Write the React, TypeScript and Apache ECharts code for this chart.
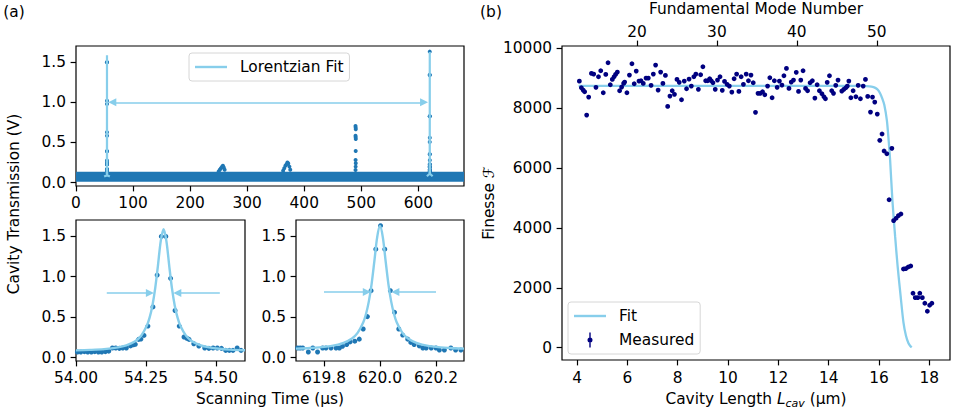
import React, { useEffect, useRef } from 'react';
import * as echarts from 'echarts';

// ---------------- Panel (a) top: full scan ----------------
const scanTicks = [0, 100, 200, 300, 400, 500, 600];
const transTicks = [0, 0.5, 1.0, 1.5];
// dense noise floor of the scan (edges of the band of points)
const bandT = [0, 680];
const bandTop = [0.135, 0.135];
const bandFloor = 0.012;
// small features above the noise floor (µs, V)
const featureT = [250, 252, 254, 256, 257.5, 259, 260.5, 363, 365, 367, 369, 370.5, 372, 374, 375.5,
  489.9, 490.1, 490.3, 489.9, 490.1, 490.3, 490.2, 490.0, 490.3, 490.1, 489.9];
const featureV = [0.14, 0.16, 0.18, 0.2, 0.21, 0.19, 0.16, 0.15, 0.18, 0.21, 0.23, 0.25, 0.24, 0.2, 0.16,
  0.706, 0.685, 0.665, 0.585, 0.565, 0.544, 0.395, 0.283, 0.241, 0.2, 0.158];
// Lorentzian fits as seen on the full scan
const fitScanLeftT = [49.3, 54.0, 54.2, 54.28, 54.313, 54.35, 54.45, 54.6, 59.3];
const fitScanLeftV = [0.076, 0.09, 0.2, 0.86, 1.585, 0.77, 0.17, 0.092, 0.076];
const fitScanRightT = [615, 619.7, 619.9, 619.97, 620.0, 620.03, 620.1, 620.3, 625];
const fitScanRightV = [0.08, 0.112, 0.237, 0.909, 1.625, 0.909, 0.237, 0.112, 0.08];
// free spectral range arrow (arrow-head centres)
const fsrArrowT = [63.6, 610];
const fsrArrowV = 1.0;

// ---------------- Panel (a) bottom-left: first resonance ----------------
const leftTicks = [54.0, 54.25, 54.5];
const peak1T = [54.005, 54.017, 54.030, 54.042, 54.055, 54.067, 54.080, 54.092, 54.105, 54.117, 54.130, 54.142,
  54.155, 54.167, 54.180, 54.195, 54.205, 54.212, 54.224, 54.232, 54.243, 54.257, 54.275, 54.290, 54.305, 54.321,
  54.338, 54.354, 54.369, 54.386, 54.396, 54.404, 54.421, 54.439, 54.460, 54.475, 54.490, 54.505, 54.520, 54.535,
  54.548, 54.561, 54.576, 54.590];
const peak1V = [0.07, 0.07, 0.075, 0.07, 0.07, 0.075, 0.07, 0.07, 0.075, 0.08, 0.12, 0.12,
  0.115, 0.12, 0.12, 0.145, 0.16, 0.165, 0.226, 0.23, 0.275, 0.39, 0.627, 1.02, 1.497, 1.497,
  0.98, 0.583, 0.39, 0.255, 0.24, 0.226, 0.172, 0.144, 0.12, 0.115, 0.12, 0.12, 0.115, 0.09,
  0.09, 0.09, 0.12, 0.09];
const fit1T = [54.0, 54.05, 54.1, 54.15, 54.18, 54.21, 54.233, 54.253, 54.263, 54.273, 54.283, 54.293, 54.303,
  54.313, 54.323, 54.333, 54.343, 54.353, 54.363, 54.373, 54.393, 54.413, 54.443, 54.476, 54.513, 54.55, 54.604];
const fit1V = [0.09, 0.096, 0.106, 0.128, 0.153, 0.2, 0.272, 0.393, 0.494, 0.642, 0.855, 1.141, 1.443,
  1.585, 1.443, 1.141, 0.855, 0.642, 0.494, 0.393, 0.272, 0.207, 0.156, 0.128, 0.11, 0.1, 0.092];
const fwhm1 = { tails: [54.11, 54.514], heads: [54.264, 54.362], level: 0.8 };

// ---------------- Panel (a) bottom-right: second resonance ----------------
const rightTicks = [619.8, 620.0, 620.2];
const peak2T = [619.706, 619.715, 619.724, 619.744, 619.760, 619.777, 619.795, 619.807, 619.825, 619.843, 619.855,
  619.866, 619.881, 619.893, 619.910, 619.926, 619.940, 619.955, 619.968, 619.985, 620.002, 620.017, 620.037,
  620.052, 620.067, 620.081, 620.099, 620.110, 620.122, 620.140, 620.153, 620.165, 620.183, 620.200, 620.212,
  620.230, 620.253, 620.270, 620.289];
const peak2V = [0.12, 0.12, 0.12, 0.07, 0.12, 0.07, 0.12, 0.12, 0.12, 0.12, 0.12,
  0.14, 0.162, 0.195, 0.204, 0.229, 0.354, 0.507, 0.827, 1.34, 1.63, 1.34, 0.827,
  0.56, 0.354, 0.279, 0.229, 0.188, 0.162, 0.146, 0.12, 0.12, 0.12, 0.12, 0.095,
  0.095, 0.12, 0.095, 0.095];
const fit2T = [619.7, 619.75, 619.8, 619.85, 619.87, 619.9, 619.92, 619.94, 619.95, 619.96, 619.97, 619.98, 619.99,
  620.0, 620.01, 620.02, 620.03, 620.04, 620.05, 620.06, 620.08, 620.1, 620.13, 620.15, 620.2, 620.25, 620.3];
const fit2V = [0.112, 0.12, 0.133, 0.162, 0.182, 0.237, 0.306, 0.434, 0.54, 0.692, 0.909, 1.195, 1.489,
  1.625, 1.489, 1.195, 0.909, 0.692, 0.54, 0.434, 0.306, 0.237, 0.182, 0.162, 0.133, 0.12, 0.112];
const fwhm2 = { tails: [619.8, 620.2], heads: [619.953, 620.055], level: 0.81 };

// ---------------- Panel (b): finesse vs cavity length ----------------
const lengthTicks = [4, 6, 8, 10, 12, 14, 16, 18];
const finesseTicks = [0, 2000, 4000, 6000, 8000, 10000];
const modeTicks = [20, 30, 40, 50];
const measLength = [4.09, 4.17, 4.24, 4.30, 4.38, 4.46, 4.57, 4.66, 4.75, 4.85, 4.94, 5.04, 5.14, 5.23, 5.32, 5.40,
  5.47, 5.53, 5.60, 5.69, 5.77, 5.85, 5.89, 5.98, 6.08, 6.18, 6.27, 6.35, 6.46, 6.54, 6.63, 6.74, 6.83, 6.94,
  7.03, 7.12, 7.22, 7.32, 7.41, 7.51, 7.60, 7.69, 7.78, 7.87, 7.97, 8.06, 8.15, 8.26, 8.35, 8.45, 8.54, 8.64,
  8.72, 8.82, 8.91, 9.00, 9.11, 9.19, 9.27, 9.33, 9.40, 9.49, 9.58, 9.68, 9.77, 9.86, 9.96, 10.05, 10.15,
  10.24, 10.34, 10.43, 10.52, 10.61, 10.72, 10.81, 10.91, 11.00, 11.09, 11.19, 11.28, 11.37, 11.46, 11.57,
  11.66, 11.75, 11.84, 11.95, 12.04, 12.14, 12.22, 12.32, 12.42, 12.51, 12.60, 12.71, 12.80, 12.89, 12.98,
  13.08, 13.16, 13.26, 13.35, 13.45, 13.54, 13.63, 13.73, 13.81, 13.87, 13.94, 14.03, 14.12, 14.19, 14.28,
  14.37, 14.52, 14.60, 14.68, 14.74, 14.80, 14.88, 14.97, 15.08, 15.17, 15.26, 15.37, 15.46, 15.55, 15.66,
  15.74, 15.83, 15.93, 16.03, 16.12, 16.20, 16.31, 16.40, 16.51, 16.58, 16.68, 16.77, 16.87, 16.97, 17.06,
  17.16, 17.26, 17.35, 17.44, 17.54, 17.62, 17.72, 17.82, 17.92, 18.01, 18.10];
const measFinesse = [8905, 8685, 8607, 8551, 7773, 8374, 9165, 9142, 8698, 9052, 9252, 8518, 9132, 9519, 8785, 8965,
  9052, 9132, 9209, 8585, 8708, 8831, 8875, 8518, 9109, 9486, 8818, 9242, 8908, 8918, 8831, 9008, 9008, 8765,
  9142, 9442, 8608, 9209, 8831, 9098, 8063, 8407, 8585, 8464, 8965, 8865, 8284, 8908, 8651, 8975, 8741, 9052,
  9142, 8631, 9118, 9386, 8918, 8918, 8985, 8918, 8851, 8631, 8942, 9052, 8598, 8898, 8798, 8741, 8541,
  8985, 9142, 8564, 9052, 8798, 9142, 8918, 9109, 8851, 7863, 8498, 8498, 8551, 8451, 8741,
  9018, 8351, 8918, 8698, 8908, 8775, 9085, 9332, 8664, 8875, 8942, 9199, 8564, 8942, 9252,
  8664, 8585, 8851, 8918, 8341, 8785, 8585, 8484, 8384, 8317, 8865, 9085, 8585, 8498, 8765,
  8942, 8574, 8631, 8685, 8741, 8908, 8351, 8585, 8384, 8765, 8317, 8741, 8965, 8397, 7873,
  8374, 8207, 7806, 6928, 7139, 6571, 6481, 4945, 6661, 4244, 4324, 4411, 4467, 2631, 2641,
  2698, 2731, 1820, 1673, 1673, 1820, 1673, 1486, 1219, 1419, 1486];
const fitLength = [4.06, 6, 8, 10, 12, 14, 15.0, 15.3, 15.5, 15.7, 15.85, 15.95, 16.04, 16.13, 16.21, 16.31, 16.37,
  16.44, 16.53, 16.64, 16.74, 16.86, 16.97, 17.07, 17.17, 17.24, 17.30];
const fitFinesse = [8750, 8750, 8750, 8750, 8750, 8750, 8750, 8748, 8740, 8720, 8680, 8620, 8500, 8320, 8107, 7606, 7049,
  6270, 4935, 3710, 2708, 1706, 850, 400, 150, 60, 15];

// ---------------- styling ----------------
const FONT = 'DejaVu Sans';
const FS = 15.4;
const C_DATA = '#1f77b4';
const C_FIT = '#87ceeb';
const C_MEAS = '#000080';

const zip = (a: number[], b: number[]) => a.map((v, i) => [v, b[i]]);

const labelStyle = { fontFamily: FONT, fontSize: FS, color: '#000' };

function valueAxis(gridIndex: number, min: number, max: number, ticks: number[], fmt: (v: number) => string, margin: number, extra: any = {}) {
  return {
    type: 'value',
    gridIndex,
    min,
    max,
    axisLine: { show: false, onZero: false },
    axisTick: { show: true, customValues: ticks, length: 5.4, lineStyle: { color: '#000', width: 1.2 } },
    axisLabel: { ...labelStyle, customValues: ticks, formatter: (v: number) => fmt(v), margin },
    splitLine: { show: false },
    ...extra,
  };
}

const gridBase = { show: true, borderColor: '#000', borderWidth: 1.2, backgroundColor: 'transparent', containLabel: false };

function arrowLines(tails: number[], heads: number[], level: number) {
  return [
    [{ coord: [tails[0], level], symbol: 'none' }, { coord: [heads[0], level], symbol: 'triangle' }],
    [{ coord: [tails[1], level], symbol: 'none' }, { coord: [heads[1], level], symbol: 'triangle' }],
  ];
}

const markLineBase = {
  silent: true,
  symbolSize: 8,
  label: { show: false },
  emphasis: { disabled: true },
  lineStyle: { color: C_FIT, width: 1.6, type: 'solid' },
};

const lineIcon = 'path://M0,0 L32,0 L32,2.4 L0,2.4 Z';
// error-bar marker: upper bar, dot, lower bar (non-overlapping so the fill stays solid)
const measuredIcon = 'path://M1.8,0 L3.2,0 L3.2,5.2 L1.8,5.2 Z M1.8,9.8 L3.2,9.8 L3.2,15 L1.8,15 Z M0,7.5 A2.5,2.5 0 1,1 5,7.5 A2.5,2.5 0 1,1 0,7.5 Z';

const legendBase = {
  orient: 'vertical', selectedMode: false,
  padding: [5, 6, 5, 6], itemWidth: 32,
  backgroundColor: 'rgba(255,255,255,0.8)', borderColor: '#d6d6d6', borderWidth: 1, borderRadius: 3,
  textStyle: { ...labelStyle, lineHeight: 18, padding: [0, 0, 0, 8] },
};

const option: any = {
  animation: false,
  backgroundColor: '#fff',
  grid: [
    { ...gridBase, left: 76, top: 46, width: 388, height: 140 },
    { ...gridBase, left: 76, top: 220, width: 169, height: 141 },
    { ...gridBase, left: 296, top: 220, width: 168, height: 141 },
    { ...gridBase, left: 562, top: 46, width: 388, height: 314 },
  ],
  xAxis: [
    valueAxis(0, 0, 680, scanTicks, (v) => String(v), 9),
    valueAxis(1, 54.0, 54.604, leftTicks, (v) => v.toFixed(2), 9),
    valueAxis(2, 619.7, 620.3, rightTicks, (v) => v.toFixed(1), 9),
    valueAxis(3, 3.4, 18.82, lengthTicks, (v) => String(v), 10),
    valueAxis(3, 10.625, 59.16, modeTicks, (v) => String(v), 7, { position: 'top' }),
  ],
  yAxis: [
    valueAxis(0, -0.041, 1.70, transTicks, (v) => v.toFixed(1), 10),
    valueAxis(1, -0.041, 1.70, transTicks, (v) => v.toFixed(1), 10),
    valueAxis(2, -0.041, 1.70, transTicks, (v) => v.toFixed(1), 10),
    valueAxis(3, -410, 10080, finesseTicks, (v) => String(v), 10),
  ],
  legend: [
    {
      ...legendBase, left: 189, top: 53, itemHeight: 14,
      data: [{ name: 'Lorentzian Fit', icon: lineIcon, itemStyle: { color: C_FIT, opacity: 1 } }],
    },
    {
      ...legendBase, left: 568, top: 302, itemHeight: 15, itemGap: 6,
      data: [
        { name: 'Fit', icon: lineIcon, itemStyle: { color: C_FIT, opacity: 1 } },
        { name: 'Measured', icon: measuredIcon, itemStyle: { color: C_MEAS, opacity: 1, borderWidth: 0 } },
      ],
    },
  ],
  series: [
    // ---- (a) top ----
    {
      type: 'line', xAxisIndex: 0, yAxisIndex: 0, name: 'noise floor',
      data: zip(bandT, bandTop), symbol: 'none', z: 1,
      lineStyle: { width: 0 },
      areaStyle: { color: C_DATA, opacity: 1, origin: bandFloor },
      silent: true,
    },
    {
      type: 'scatter', xAxisIndex: 0, yAxisIndex: 0, name: 'scan',
      data: [...zip(peak1T, peak1V), ...zip(peak2T, peak2V), ...zip(featureT, featureV)],
      symbolSize: 4, itemStyle: { color: C_DATA, opacity: 1 }, z: 2, silent: true,
    },
    {
      type: 'line', xAxisIndex: 0, yAxisIndex: 0, name: 'Lorentzian Fit',
      data: zip(fitScanLeftT, fitScanLeftV), symbol: 'none', z: 3, silent: true,
      lineStyle: { color: C_FIT, width: 2.2 }, itemStyle: { color: C_FIT },
      markLine: {
        ...markLineBase, symbol: ['triangle', 'triangle'],
        data: [[{ coord: [fsrArrowT[0], fsrArrowV] }, { coord: [fsrArrowT[1], fsrArrowV] }]],
      },
    },
    {
      type: 'line', xAxisIndex: 0, yAxisIndex: 0, name: 'Lorentzian Fit',
      data: zip(fitScanRightT, fitScanRightV), symbol: 'none', z: 3, silent: true,
      lineStyle: { color: C_FIT, width: 2.2 }, itemStyle: { color: C_FIT },
    },
    // ---- (a) bottom-left ----
    {
      type: 'scatter', xAxisIndex: 1, yAxisIndex: 1, name: 'peak1',
      data: zip(peak1T, peak1V), symbolSize: 5, itemStyle: { color: C_DATA, opacity: 1 }, z: 2, silent: true,
    },
    {
      type: 'line', xAxisIndex: 1, yAxisIndex: 1, name: 'Lorentzian Fit',
      data: zip(fit1T, fit1V), symbol: 'none', smooth: 0.3, z: 3, silent: true,
      lineStyle: { color: C_FIT, width: 2.4 }, itemStyle: { color: C_FIT },
      markLine: { ...markLineBase, data: arrowLines(fwhm1.tails, fwhm1.heads, fwhm1.level) },
    },
    // ---- (a) bottom-right ----
    {
      type: 'scatter', xAxisIndex: 2, yAxisIndex: 2, name: 'peak2',
      data: zip(peak2T, peak2V), symbolSize: 5, itemStyle: { color: C_DATA, opacity: 1 }, z: 2, silent: true,
    },
    {
      type: 'line', xAxisIndex: 2, yAxisIndex: 2, name: 'Lorentzian Fit',
      data: zip(fit2T, fit2V), symbol: 'none', smooth: 0.3, z: 3, silent: true,
      lineStyle: { color: C_FIT, width: 2.4 }, itemStyle: { color: C_FIT },
      markLine: { ...markLineBase, data: arrowLines(fwhm2.tails, fwhm2.heads, fwhm2.level) },
    },
    // ---- (b) ----
    {
      type: 'line', xAxisIndex: 3, yAxisIndex: 3, name: 'Fit',
      data: zip(fitLength, fitFinesse), symbol: 'none', smooth: 0.3, z: 2, silent: true,
      lineStyle: { color: C_FIT, width: 2.3 }, itemStyle: { color: C_FIT },
    },
    {
      type: 'scatter', xAxisIndex: 3, yAxisIndex: 3, name: 'Measured',
      data: zip(measLength, measFinesse), symbolSize: 4.8, itemStyle: { color: C_MEAS, opacity: 1 }, z: 3, silent: true,
    },
  ],
  graphic: [
    { type: 'text', x: 14, y: 12, style: { text: '(a)', fontFamily: FONT, fontSize: FS, fill: '#000', align: 'center', verticalAlign: 'middle' } },
    { type: 'text', x: 491, y: 12, style: { text: '(b)', fontFamily: FONT, fontSize: FS, fill: '#000', align: 'center', verticalAlign: 'middle' } },
    { type: 'text', x: 14, y: 204, rotation: Math.PI / 2, style: { text: 'Cavity Transmission (V)', fontFamily: FONT, fontSize: FS, fill: '#000', align: 'center', verticalAlign: 'middle' } },
    { type: 'text', x: 270, y: 399, style: { text: 'Scanning Time (µs)', fontFamily: FONT, fontSize: FS, fill: '#000', align: 'center', verticalAlign: 'middle' } },
    { type: 'text', x: 756, y: 8.5, style: { text: 'Fundamental Mode Number', fontFamily: FONT, fontSize: FS, fill: '#000', align: 'center', verticalAlign: 'middle' } },
    { type: 'text', x: 489, y: 203, rotation: Math.PI / 2, style: { text: 'Finesse ℱ', fontFamily: FONT, fontSize: FS, fill: '#000', align: 'center', verticalAlign: 'middle' } },
    {
      type: 'text', x: 756, y: 399,
      style: {
        text: '{n|Cavity Length }{i|L}{s|cav}{n| (µm)}',
        fontFamily: FONT, fontSize: FS, fill: '#000', align: 'center', verticalAlign: 'middle',
        rich: {
          n: { fontFamily: FONT, fontSize: FS, lineHeight: 20, fill: '#000' },
          i: { fontFamily: FONT, fontSize: FS, fontStyle: 'italic', lineHeight: 20, fill: '#000' },
          s: { fontFamily: FONT, fontSize: 11, fontStyle: 'italic', lineHeight: 11, verticalAlign: 'bottom', fill: '#000' },
        },
      },
    },
  ],
};

export default function App() {
  const ref = useRef<HTMLDivElement>(null);
  useEffect(() => {
    const chart = echarts.init(ref.current!, null, { renderer: 'svg' });
    chart.setOption(option);
    return () => chart.dispose();
  }, []);
  return <div ref={ref} style={{ position: 'fixed', left: 0, top: 0, width: 958, height: 415 }} />;
}
